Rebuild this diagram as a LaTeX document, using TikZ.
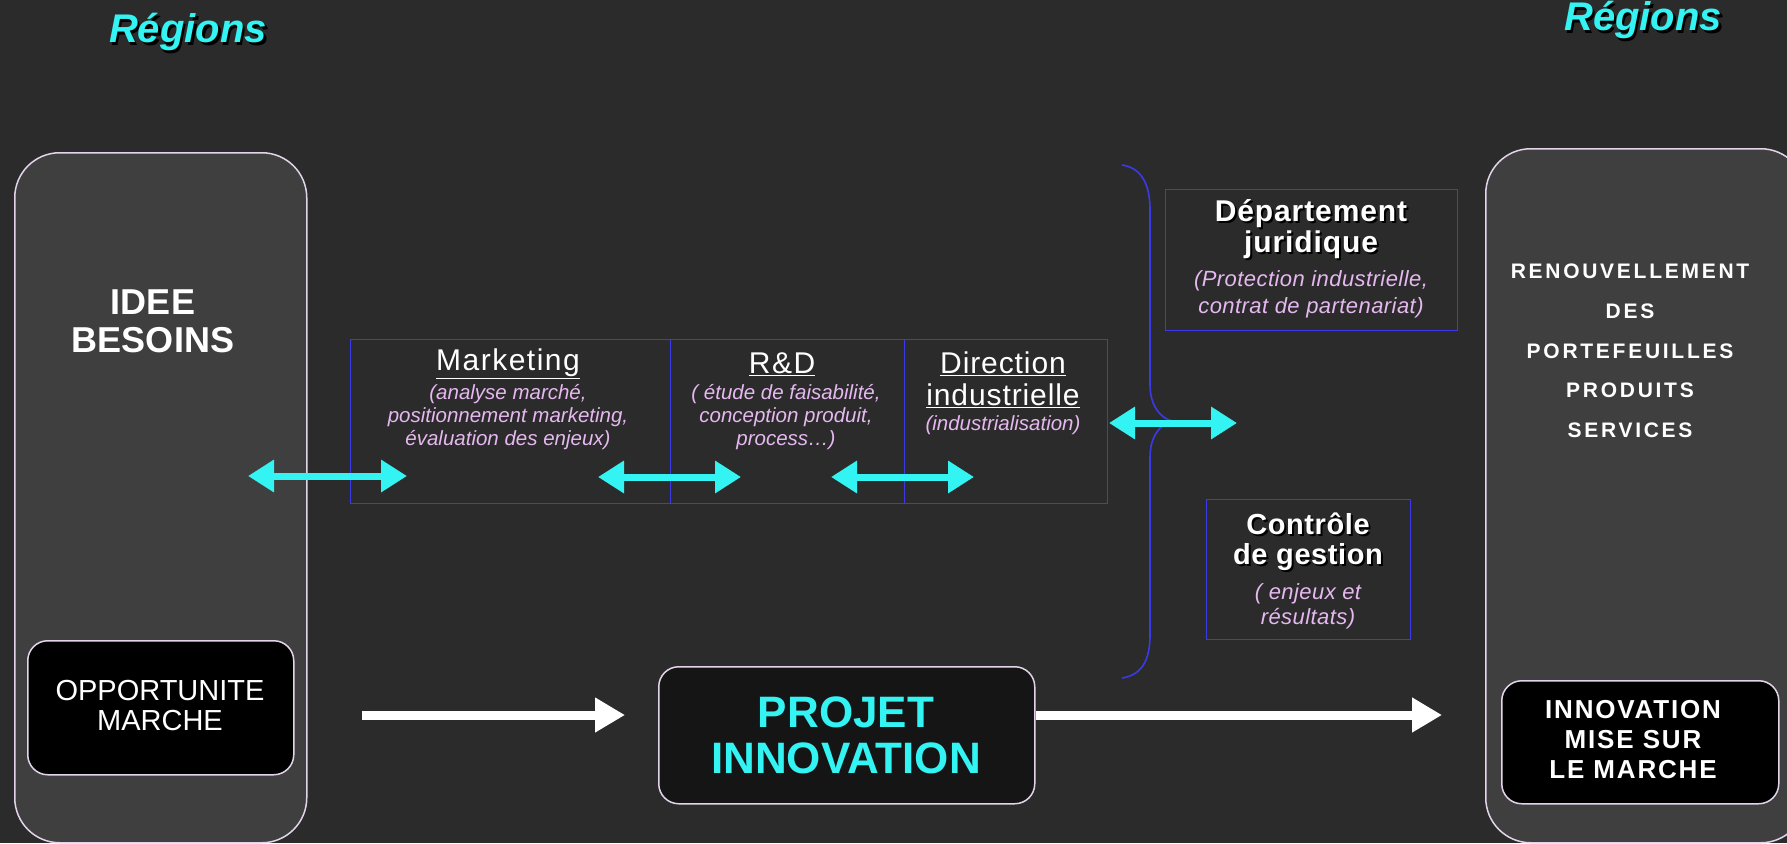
\documentclass[tikz,border=0pt]{standalone}
\usepackage{fontspec}
\setmainfont{Liberation Sans}
\usetikzlibrary{arrows.meta}
\definecolor{bg}{HTML}{2B2B2B}
\definecolor{boxgray}{HTML}{3F3F3F}
\definecolor{cyanc}{HTML}{33F3F3}
\definecolor{pinktxt}{HTML}{E6B8F0}
\definecolor{bluel}{HTML}{3A3AE6}
\definecolor{edgep}{HTML}{E4D4EA}
\definecolor{projfill}{HTML}{151515}
\begin{document}
\begin{tikzpicture}[x=1pt,y=-1pt,
  bigbox/.style={draw=edgep, line width=1.5pt, fill=boxgray, rounded corners=45pt, inner sep=0pt, anchor=north west},
  blackbox/.style={draw=edgep, line width=1.5pt, fill=black, rounded corners=20pt, inner sep=0pt, anchor=north west},
  deptbox/.style={draw=bluel, line width=1.4pt, inner sep=0pt, anchor=north west},
  txt/.style={inner sep=0pt, align=center, text=white},
  sub/.style={inner sep=0pt, align=center, text=pinktxt},
  cyanarrow/.style={draw=cyanc, line width=7pt, {Triangle[length=26pt,width=31pt]}-{Triangle[length=26pt,width=31pt]}},
  whitearrow/.style={draw=white, line width=9pt, -{Triangle[length=30pt,width=33pt]}},
  bracestyle/.style={draw=bluel, line width=1.6pt}
]
\fill[bg] (0,0) rectangle (1787,843);
\useasboundingbox (0,0) rectangle (1787,843);

% Regions titles
\node[inner sep=0pt, text=black, font=\fontsize{40}{44}\selectfont\bfseries\itshape] (regLs) at (190.5,34.5) {Régions};
\node[inner sep=0pt, text=cyanc, font=\fontsize{40}{44}\selectfont\bfseries\itshape] (regL) at (188,32) {Régions};
\node[inner sep=0pt, text=black, font=\fontsize{40}{44}\selectfont\bfseries\itshape] (regRs) at (1645.5,22.5) {Régions};
\node[inner sep=0pt, text=cyanc, font=\fontsize{40}{44}\selectfont\bfseries\itshape] (regR) at (1643,20) {Régions};

% left column
\node[bigbox, minimum width=292pt, minimum height=690pt] (lbox) at (14,152) {};
\node[txt, font=\fontsize{36}{38}\selectfont\bfseries] (idee) at (153,321) {IDEE\\BESOINS};
\node[blackbox, minimum width=266pt, minimum height=134pt] (opp) at (27,640) {};
\node[txt, font=\fontsize{29}{30}\selectfont] (oppt) at (160,706) {OPPORTUNITE\\MARCHE};

% right column
\node[bigbox, minimum width=320pt, minimum height=694pt] (rbox) at (1485,148) {};
\node[txt, font=\fontsize{21}{39.75}\selectfont\bfseries\addfontfeature{LetterSpace=13}] (renouv) at (1630,351) {RENOUVELLEMENT\\DES\\PORTEFEUILLES\\PRODUITS\\SERVICES};
\node[blackbox, minimum width=277pt, minimum height=123pt] (imm) at (1501,680) {};
\node[txt, font=\fontsize{26}{30}\selectfont\bfseries\addfontfeature{LetterSpace=7}] (immt) at (1633,740) {INNOVATION\\MISE SUR\\LE MARCHE};

% central departments
\node[deptbox, minimum width=320pt, minimum height=164pt] (mk) at (350,338.5) {};
\node[deptbox, minimum width=234pt, minimum height=164pt] (rd) at (670,338.5) {};
\node[deptbox, minimum width=203pt, minimum height=164pt] (di) at (904,338.5) {};

\node[txt, font=\fontsize{30}{32}\selectfont\addfontfeature{LetterSpace=5}] (mkt) at (508,364) {\underline{Marketing}};
\node[sub, font=\fontsize{20.5}{23}\selectfont\itshape] (mks) at (508,417) {(analyse marché,\\positionnement marketing,\\évaluation des enjeux)};
\node[txt, font=\fontsize{30}{32}\selectfont\addfontfeature{LetterSpace=5}] (rdt) at (782,364) {\underline{R\&D}};
\node[sub, font=\fontsize{20.5}{23}\selectfont\itshape] (rds) at (786,417) {( étude de faisabilité,\\conception produit,\\process…)};
\node[txt, font=\fontsize{30}{32}\selectfont\addfontfeature{LetterSpace=3}] (dit) at (1003,379.5) {\underline{Direction}\\\underline{industrielle}};
\node[sub, font=\fontsize{20.5}{23}\selectfont\itshape] (dis) at (1003,425) {(industrialisation)};

% Departement juridique
\node[deptbox, minimum width=292pt, minimum height=141pt] (dj) at (1165,189) {};
\node[txt, text=black, font=\fontsize{30}{31}\selectfont\bfseries\addfontfeature{LetterSpace=3}] (djts) at (1313,231.5) {Département\\juridique};
\node[txt, font=\fontsize{30}{31}\selectfont\bfseries\addfontfeature{LetterSpace=3}] (djt) at (1311,229.5) {Département\\juridique};
\node[sub, font=\fontsize{22}{27}\selectfont\itshape\addfontfeature{LetterSpace=2}] (djs) at (1311,294.5) {(Protection industrielle,\\contrat de partenariat)};

% Controle de gestion
\node[deptbox, minimum width=204pt, minimum height=140pt] (cg) at (1206,499) {};
\node[txt, text=black, font=\fontsize{29}{30}\selectfont\bfseries\addfontfeature{LetterSpace=2}] (cgts) at (1310,544) {Contrôle\\de gestion};
\node[txt, font=\fontsize{29}{30}\selectfont\bfseries\addfontfeature{LetterSpace=2}] (cgt) at (1308,542) {Contrôle\\de gestion};
\node[sub, font=\fontsize{22}{25}\selectfont\itshape\addfontfeature{LetterSpace=2}] (cgs) at (1308,606.5) {( enjeux et\\résultats)};

% brace
\coordinate (brtop) at (1122,165);
\coordinate (brtip) at (1172,421);
\coordinate (brbot) at (1122,678);
\draw[bracestyle] (brtop) .. controls (1142,168) and (1150,185) .. (1150,210) -- (1150,385)
  .. controls (1150,405) and (1160,418) .. (brtip)
  .. controls (1160,424) and (1150,437) .. (1150,457) -- (1150,635)
  .. controls (1150,660) and (1142,675) .. (brbot);

% projet innovation
\node[blackbox, fill=projfill, minimum width=376pt, minimum height=137pt] (proj) at (658,666) {};
\node[txt, text=cyanc, font=\fontsize{44}{46}\selectfont\bfseries] (projt) at (846,735) {PROJET\\INNOVATION};

% cyan double arrows
\coordinate (c1a) at (248,476); \coordinate (c1b) at (407,476);
\coordinate (c2a) at (598,477); \coordinate (c2b) at (741,477);
\coordinate (c3a) at (831,477); \coordinate (c3b) at (974,477);
\coordinate (c4a) at (1109,423); \coordinate (c4b) at (1237,423);
\draw[cyanarrow] (c1a) -- (c1b);
\draw[cyanarrow] (c2a) -- (c2b);
\draw[cyanarrow] (c3a) -- (c3b);
\draw[cyanarrow] (c4a) -- (c4b);

% white arrows
\coordinate (w1a) at (362,715); \coordinate (w1b) at (625,715);
\coordinate (w2b) at (1442,715);
\draw[whitearrow] (w1a) -- (w1b);
\draw[whitearrow] (proj.east |- w2b) -- (w2b);
\end{tikzpicture}
\end{document}
